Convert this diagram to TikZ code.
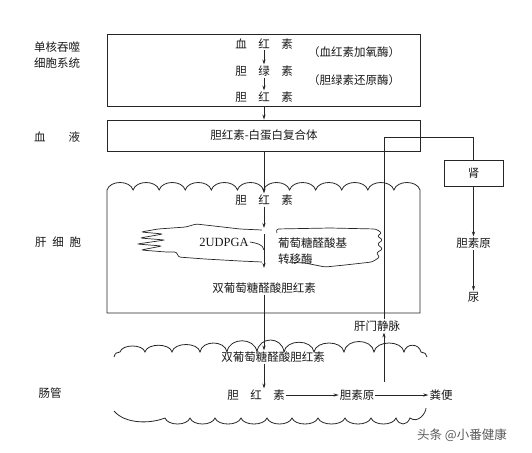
\documentclass[tikz,border=0pt]{standalone}
\usepackage{fontspec}
\setmainfont{Noto Sans CJK SC}
\newfontfamily\latinrm{Liberation Serif}
\usetikzlibrary{arrows.meta, positioning, calc}

\begin{document}
\begin{tikzpicture}[
  x=1pt, y=-1pt,
  font=\fontsize{11.5}{16}\selectfont,
  every node/.style={align=center, inner sep=1pt, text=black!90},
  %% ─── 樣式定義 ────────────────────────────────────────────────
  frame/.style={
    draw=black!85, line width=0.9pt, minimum width=313pt, inner sep=0pt
  },
  kbox/.style={
    draw=black!85, line width=0.8pt, minimum width=59pt, minimum height=26pt
  },
  wall/.style={draw=black!85, line width=0.8pt},
  darrow/.style={-{Stealth[length=5pt, width=3.2pt]}, line width=0.7pt, black!85},
  pline/.style={line width=0.7pt, black!85}
]
  \useasboundingbox (0,0) rectangle (532,452);

  %% ─── 1. 單核吞噬細胞系統 (Y=34 至 Y=106) ─────────────────────
  \node[frame, minimum height=72pt] (MPSbox) at (264,70) {};
  \node (Hb) at (264,44) {血\quad 红\quad 素};
  \node (Bv) at (264,71) {胆\quad 绿\quad 素};
  \node (Br) at (264,97) {胆\quad 红\quad 素};
  \node (HO) at (354,52) {（血红素加氧酶）};
  \node (BVR) at (354,80) {（胆绿素还原酶）};

  \draw[darrow] (Hb) -- (Bv);
  \draw[darrow] (Bv) -- (Br);

  %% ─── 2. 血液 (Y=120 至 Y=151) ───────────────────────────────
  \node[frame, minimum height=31pt] (Blood) at (264,135.5) {胆红素-白蛋白复合体};
  \draw[darrow] (MPSbox) -- (Blood);

  % 腎 路線
  \node[kbox] (Kidney) at (473.5,173) {肾};
  \node (Kub) at (473.5,243) {胆素原};
  \node (Urine) at (473.5,297) {尿};
  \draw[darrow] (Kidney.south) -- (Kub.north);
  \draw[darrow] (Kub.south) -- (Urine.north);

  %% ─── 3. 肝細胞 (X=107 至 X=420) ─────────────────────────────
  % 外框：上緣為波浪
  \draw[wall] (107,190) \foreach \i in {0,...,11} {
      .. controls +(3,-10) and +(-3,-10) .. ++(26.083,0) }
    -- (420,313) -- (107,313) -- cycle;

  \node (Lbr) at (264,200) {胆\quad 红\quad 素};
  \node[font=\fontsize{12.5}{14}\selectfont] (Udpga) at (224,242) {\latinrm 2UDPGA};
  \node[align=left, anchor=west] (UGT) at (277,251) {葡萄糖醛酸基\\转移酶};
  \node (Lconj) at (264,288) {双葡萄糖醛酸胆红素};

  % 內質網 (手繪形狀)
  \draw[wall, line width=0.7pt, rounded corners=2.5pt]
    (262,230) -- (240,229) -- (214,226) -- (196,224) -- (186,227)
    -- (158,229) -- (141,232) -- (163,234) -- (140,238) -- (165,240)
    -- (137,244) -- (162,246) -- (141,250) -- (166,252) -- (177,252)
    -- (178,257) -- (205,259) -- (240,261) -- (262,262);
  \draw[wall, line width=0.7pt, rounded corners=2.5pt]
    (277,233) -- (276,229) -- (330,228) -- (376,229) -- (382,233)
    -- (377,236) -- (383,240) -- (377,244) -- (383,249) -- (376,253)
    -- (380,257) -- (372,262) -- (345,265) -- (325,267) -- (305,263)
    -- (286,262);

  \coordinate (Gap1) at (264,228);
  \coordinate (Gap2) at (264,234);
  \coordinate (Gap3) at (264,268);
  \coordinate (Merge) at (264,250);

  \draw[darrow] (Blood) -- (Lbr);
  \draw[darrow] (Lbr) -- (Gap1);
  \draw[darrow] (Gap2) -- (Gap3);
  \draw[pline] (Udpga.east) .. controls +(6,1) and +(-1,-6) .. (Merge);

  %% ─── 4. 腸管 (Y=350 至 Y=420) ───────────────────────────────
  \draw[wall] (114,357) .. controls +(1,-4) and +(-3,0) .. (120,352)
    \foreach \w/\h in {25/8, 27/9, 28/10, 27/12, 30/15, 27/16, 30/13, 30/12, 30/14, 30/12, 17/9} {
      .. controls +(2,-\h) and +(-2,-\h) .. ++(\w,0) }
    .. controls +(3,0) and +(0,-3) .. ++(6,5);
  \draw[wall] (114,411) .. controls (125,424) and (150,424) .. (165,418)
    \foreach \w in {25,25,26,26,25,26,27,26,25,14} {
      .. controls +(3,8) and +(-3,8) .. ++(\w,0) }
    .. controls +(8,6) and +(0,5) .. ++(16,-10);

  \node (Iconj) at (273,357) {双葡萄糖醛酸胆红素};
  \node (Ibr) at (256,395) {胆\quad 红\quad 素};
  \node (Ub) at (357,395) {胆素原};
  \node (Feces) at (441,395) {粪便};
  \node (PV) at (377,326) {肝门静脉};

  \draw[darrow] (Lconj.south) -- (Lconj.south |- Iconj.north);
  \draw[darrow] (Lconj.south |- Iconj.south) -- (Lconj.south |- Ibr.north);
  \draw[darrow] (Ibr.east) -- (Ub.west);
  \draw[darrow] (Ub.east) -- (Feces.west);

  % 肝門靜脈 回流
  \coordinate (PVfoot) at (384,382);
  \coordinate (Junction) at (384,137);
  \draw[darrow] (PVfoot) -- (PVfoot |- PV.south);
  \draw[pline] (PVfoot |- PV.north) -- (Junction) -| (Kidney.north);

  %% ─── 5. 左側標籤 ────────────────────────────────────────────
  \node (LblMPS) at (57,55) {单核吞噬\\细胞系统};
  \node (LblBlood) at (57,137) {血\hspace{2em}液};
  \node (LblLiver) at (58,242) {肝\enspace 细\enspace 胞};
  \node (LblGut) at (50,393) {肠管};

  \node[text=black!65, font=\fontsize{12.5}{14}\selectfont] (Mark) at (462,435) {头条 @小番健康};
\end{tikzpicture}
\end{document}
